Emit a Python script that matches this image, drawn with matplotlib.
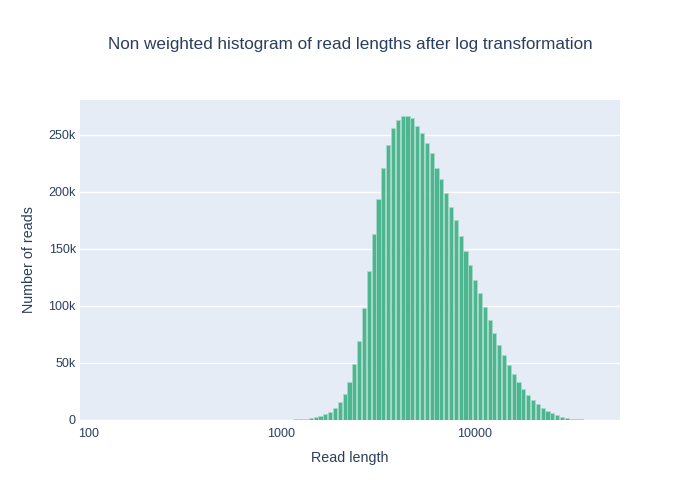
import numpy as np
import matplotlib
matplotlib.use('Agg')
import matplotlib.pyplot as plt

plt.rcParams['font.family'] = ['Liberation Sans', 'DejaVu Sans']

# log10(read length) bins, width 0.025
bin_start = 1.9655
bin_width = 0.025

# reads per bin
counts = [
    3, 2, 4, 3, 5, 4, 6, 5, 7, 8,
    9, 10, 12, 13, 15, 17, 20, 22, 26, 30,
    35, 40, 46, 52, 60, 68, 76, 85, 95, 105,
    115, 125, 135, 145, 155, 165, 180, 195, 215, 240,
    270, 310, 360, 420, 550, 800, 1100, 1600, 2300, 3500,
    5000, 7300, 10500, 15500, 22800, 33600, 48800, 69600, 98000, 131000,
    163000, 194000, 221000, 241000, 256000, 263000, 266500, 266500, 265000, 258000,
    252000, 243000, 234000, 221000, 211000, 199000, 187000, 175000, 161000, 148500,
    136000, 123000, 111000, 99000, 87500, 76600, 66000, 57000, 48500, 40600,
    33600, 27500, 22000, 17500, 14000, 10500, 8200, 5800, 4100, 2600,
    1800, 1200, 700, 450, 300, 200, 120, 70, 40, 25,
    15, 8,
]

xtick_vals = [2, 3, 4]
xtick_labels = ['100', '1000', '10000']
ytick_vals = [0, 50000, 100000, 150000, 200000, 250000]
ytick_labels = ['0', '50k', '100k', '150k', '200k', '250k']

text_color = '#2a3f5f'

fig = plt.figure(figsize=(7, 5), dpi=100)
ax = fig.add_axes([80 / 700, 80 / 500, 540 / 700, 320 / 500])
ax.set_facecolor('#E5ECF6')

centers = bin_start + bin_width * (np.arange(len(counts)) + 0.5)
ax.bar(centers, counts, width=bin_width * 0.86, color='#4db690',
       edgecolor='#a8dcc8', linewidth=0.5, zorder=3)

ax.set_xlim(1.958, 4.753)
ax.set_ylim(0, 280700)
ax.set_xticks(xtick_vals)
ax.set_xticklabels(xtick_labels)
ax.set_yticks(ytick_vals)
ax.set_yticklabels(ytick_labels)
ax.tick_params(axis='both', length=0, colors=text_color, labelsize=9)
ax.tick_params(axis='x', pad=6)
ax.tick_params(axis='y', pad=3)
ax.grid(axis='y', color='white', linewidth=1, zorder=0)
for s in ax.spines.values():
    s.set_visible(False)

ax.set_xlabel('Read length', color=text_color, fontsize=10.3, labelpad=8)
ax.set_ylabel('Number of reads', color=text_color, fontsize=10.3, labelpad=9)
fig.text(0.5, 1 - 45 / 500, 'Non weighted histogram of read lengths after log transformation',
         ha='center', va='center', color=text_color, fontsize=12.3)

fig.savefig('out.png', dpi=100)
